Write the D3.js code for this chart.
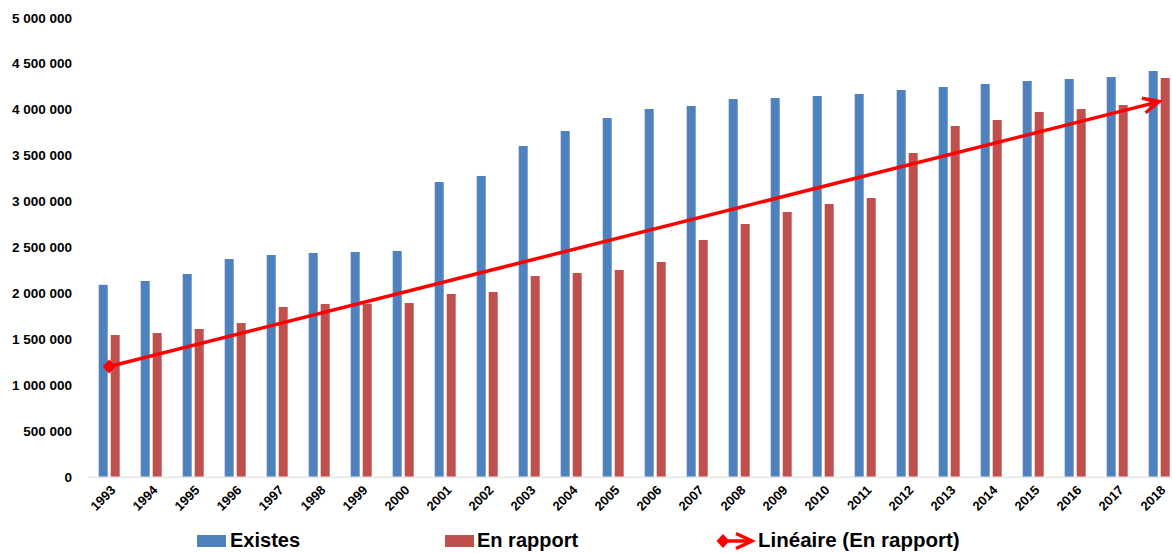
<!DOCTYPE html>
<html>
<head>
<meta charset="utf-8">
<script src="https://cdn.jsdelivr.net/npm/d3@7"></script>
<style>
  html, body { margin: 0; padding: 0; background: #ffffff; }
  svg { display: block; }
  text { font-family: "Liberation Sans", Arial, sans-serif; font-weight: bold; fill: #000; }
</style>
</head>
<body>
<svg id="chart" width="1172" height="553"></svg>
<script>
// Years on the category axis
const years = ["1993","1994","1995","1996","1997","1998","1999","2000","2001","2002","2003","2004","2005",
               "2006","2007","2008","2009","2010","2011","2012","2013","2014","2015","2016","2017","2018"];

// Series values
const existes = [2090000, 2132000, 2208000, 2371000, 2415000, 2437000, 2448000, 2459000, 3210000, 3276000,
                 3602000, 3766000, 3907000, 4005000, 4038000, 4114000, 4125000, 4147000, 4169000, 4212000,
                 4245000, 4278000, 4310000, 4332000, 4354000, 4419000];
const enRapport = [1543000, 1565000, 1609000, 1674000, 1849000, 1881000, 1885000, 1892000, 1990000, 2012000,
                   2186000, 2219000, 2252000, 2339000, 2578000, 2753000, 2883000, 2971000, 3036000, 3526000,
                   3820000, 3886000, 3973000, 4005000, 4049000, 4343000];

// Value axis ticks
const yTicks = [0, 500000, 1000000, 1500000, 2000000, 2500000, 3000000, 3500000, 4000000, 4500000, 5000000];

// Legend labels
const seriesNames = ["Existes", "En rapport", "Linéaire (En rapport)"];

const BLUE = "#4f81bd", RED = "#c0504d", TREND = "#ff0000";

const svg = d3.select("#chart");

// Category bands: 42 px per year, starting left of the first group
const x = d3.scaleBand().domain(years).range([88.2, 88.2 + years.length * 42]).padding(0);
const inner = d3.scaleBand().domain(["existes", "enRapport"])
  .range([x.bandwidth() * 0.25, x.bandwidth() * 0.75]).paddingInner(0.25).paddingOuter(0);
const y = d3.scaleLinear().domain([0, 5000000]).range([476.7, 17.7]);

const fmt = d3.formatLocale({ decimal: ",", thousands: " ", grouping: [3], currency: ["", ""] }).format(",d");

// Value axis (labels only)
const yAxis = svg.append("g")
  .attr("transform", "translate(88,0)")
  .call(d3.axisLeft(y).tickValues(yTicks).tickSize(0).tickPadding(16).tickFormat(fmt));
yAxis.select(".domain").remove();
yAxis.selectAll("text").style("font-size", "13.5px").style("font-family", null).attr("fill", "#000");

// Bars
const series = [
  { key: "existes", values: existes, color: BLUE },
  { key: "enRapport", values: enRapport, color: RED }
];
series.forEach(s => {
  svg.append("g").selectAll("rect")
    .data(years.map((yr, i) => ({ yr, v: s.values[i] })))
    .join("rect")
    .attr("x", d => x(d.yr) + inner(s.key))
    .attr("width", inner.bandwidth())
    .attr("y", d => y(d.v))
    .attr("height", d => y(0) - y(d.v))
    .attr("fill", s.color);
});

// Category axis
const xAxis = svg.append("g")
  .attr("transform", `translate(0,${y(0)})`)
  .call(d3.axisBottom(x).tickSize(0).tickPadding(0));
xAxis.select(".domain").attr("stroke", "#d9d9d9").attr("stroke-width", 1);
xAxis.selectAll("text")
  .style("font-size", "13px").style("font-family", null).attr("fill", "#000")
  .attr("text-anchor", "end")
  .attr("y", 0).attr("dy", "0.35em")
  .attr("transform", "translate(4,11) rotate(-45)");

// Linear trend of the "En rapport" series (least squares on the year index)
const n = enRapport.length;
const mx = d3.mean(enRapport, (d, i) => i);
const my = d3.mean(enRapport);
const slope = d3.sum(enRapport, (d, i) => (i - mx) * (d - my)) / d3.sum(enRapport, (d, i) => (i - mx) * (i - mx));
const intercept = my - slope * mx;
const trend = years.map((yr, i) => ({ yr, v: intercept + slope * i }));

const defs = svg.append("defs");
defs.append("marker")
  .attr("id", "diamond").attr("markerUnits", "userSpaceOnUse")
  .attr("viewBox", "-8 -8 16 16").attr("markerWidth", 16).attr("markerHeight", 16)
  .attr("refX", 0).attr("refY", 0).attr("orient", "0")
  .append("path").attr("d", "M-6.5,0L0,-7L6.5,0L0,7Z").attr("fill", TREND);
defs.append("marker")
  .attr("id", "arrow").attr("markerUnits", "userSpaceOnUse")
  .attr("viewBox", "-20 -10 24 20").attr("markerWidth", 24).attr("markerHeight", 20)
  .attr("refX", 0).attr("refY", 0).attr("orient", "auto")
  .append("path").attr("d", "M-16,-7.5L0,0L-16,7.5")
  .attr("fill", "none").attr("stroke", TREND).attr("stroke-width", 3.4).attr("stroke-linejoin", "miter");

const line = d3.line().x(d => x(d.yr) + x.bandwidth() / 2).y(d => y(d.v));
svg.append("path")
  .datum([trend[0], trend[n - 1]])
  .attr("d", line)
  .attr("fill", "none").attr("stroke", TREND).attr("stroke-width", 3.5)
  .attr("marker-start", "url(#diamond)").attr("marker-end", "url(#arrow)");

// Legend
const legend = svg.append("g").attr("class", "legend");
const lgY = 547;
legend.append("rect").attr("x", 197).attr("y", 535).attr("width", 29).attr("height", 12).attr("fill", BLUE);
legend.append("text").attr("x", 230).attr("y", lgY).style("font-size", "20px").text(seriesNames[0]);
legend.append("rect").attr("x", 445).attr("y", 535).attr("width", 29).attr("height", 12).attr("fill", RED);
legend.append("text").attr("x", 477).attr("y", lgY).style("font-size", "20px").text(seriesNames[1]);
legend.append("path")
  .attr("d", d3.line()([[723, 541], [752, 541]]))
  .attr("fill", "none").attr("stroke", TREND).attr("stroke-width", 3.5)
  .attr("marker-start", "url(#diamond)").attr("marker-end", "url(#arrow)");
legend.append("text").attr("x", 758).attr("y", lgY).style("font-size", "20.5px").text(seriesNames[2]);
</script>
</body>
</html>
